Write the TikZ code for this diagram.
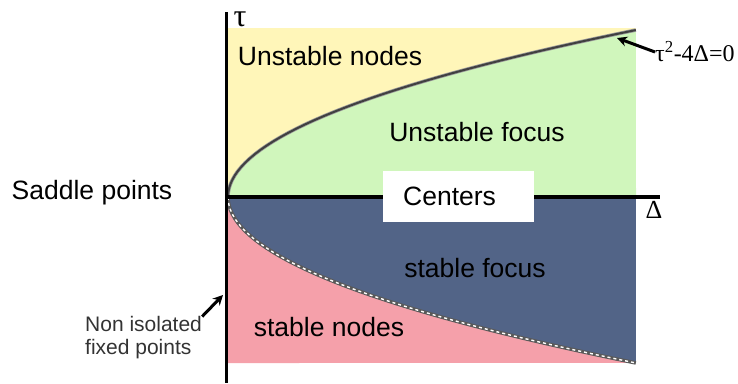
\documentclass[tikz,border=0pt]{standalone}
\usepackage{fontspec}
\setmainfont{Liberation Sans}
\newfontfamily\symfont{Liberation Serif}
\usetikzlibrary{arrows.meta}
\definecolor{nodeyellow}{RGB}{255,246,185}
\definecolor{focusgreen}{RGB}{208,246,188}
\definecolor{stablenavy}{RGB}{82,100,135}
\definecolor{nodepink}{RGB}{245,160,170}
\begin{document}
\begin{tikzpicture}[x=1pt,y=-1pt,
  region/.style={font=\fontsize{26.5}{30}\selectfont,inner sep=0pt},
  greek/.style={font=\symfont\fontsize{32}{34}\selectfont,inner sep=0pt},
  ptr/.style={draw,line width=3pt,-{Stealth[length=10pt,width=10pt]}}]
\useasboundingbox (0,0) rectangle (738,383);

% regions of the trace-determinant plane
\fill[nodeyellow] (228,28) rectangle (636,197);
\fill[focusgreen] (228,197) -- plot[domain=0:1,samples=40] ({228+408*\x*\x},{197-167*\x}) -- (636,197) -- cycle;
\fill[stablenavy] (228,197) rectangle (636,363);
\fill[nodepink] (228,197) -- plot[domain=0:1,samples=40] ({228+408*\x*\x},{197+166*\x}) -- (228,363) -- cycle;

% parabola tau^2-4Delta=0
\draw[black!40,line width=3.5pt] plot[domain=0:1,samples=40] ({228+408*\x*\x},{197-167*\x});
\draw[black!75,line width=2pt] plot[domain=0:1,samples=40] ({228+408*\x*\x},{197-167*\x});
\draw[black!65,line width=3.5pt] plot[domain=0:1,samples=40] ({228+408*\x*\x},{197+166*\x});
\draw[white,line width=1.4pt,dash pattern=on 3pt off 3pt] plot[domain=0:1,samples=40] ({228+408*\x*\x},{197+166*\x});

% axes
\draw[line width=3pt] (226,12) -- (226,383);
\draw[line width=4pt] (226,197) -- (660,197);

\node[region] (unodes) at (330,56) {Unstable nodes};
\node[region] (ufocus) at (477,132) {Unstable focus};
\node[region,fill=white,anchor=west,inner xsep=20pt,text width=111pt,align=left,minimum height=51pt] (centers) at (383,196) {Centers};
\node[region] (sfocus) at (475,268) {stable focus};
\node[region] (snodes) at (329,327) {stable nodes};
\node[region] (saddle) at (92,193) {Saddle points};
\node[font=\fontsize{21}{23}\selectfont,text=black!80,align=left,inner sep=0pt,anchor=west] (nonisol) at (85,338) {Non isolated\\fixed points};

\node[greek] (tau) at (240,19) {τ};
\node[greek,font=\symfont\fontsize{26}{28}\selectfont] (delta) at (654,210) {Δ};
\node[greek,font=\symfont\fontsize{24}{28}\selectfont,anchor=west] (parab) at (655,52) {τ\textsuperscript{2}-4Δ=0};

\coordinate (parabtip) at (617,38);
\coordinate (isoltip) at (223,295);
\draw[ptr] (parab.west) -- (parabtip);
\draw[ptr] (nonisol.north east) -- (isoltip);
\end{tikzpicture}
\end{document}
